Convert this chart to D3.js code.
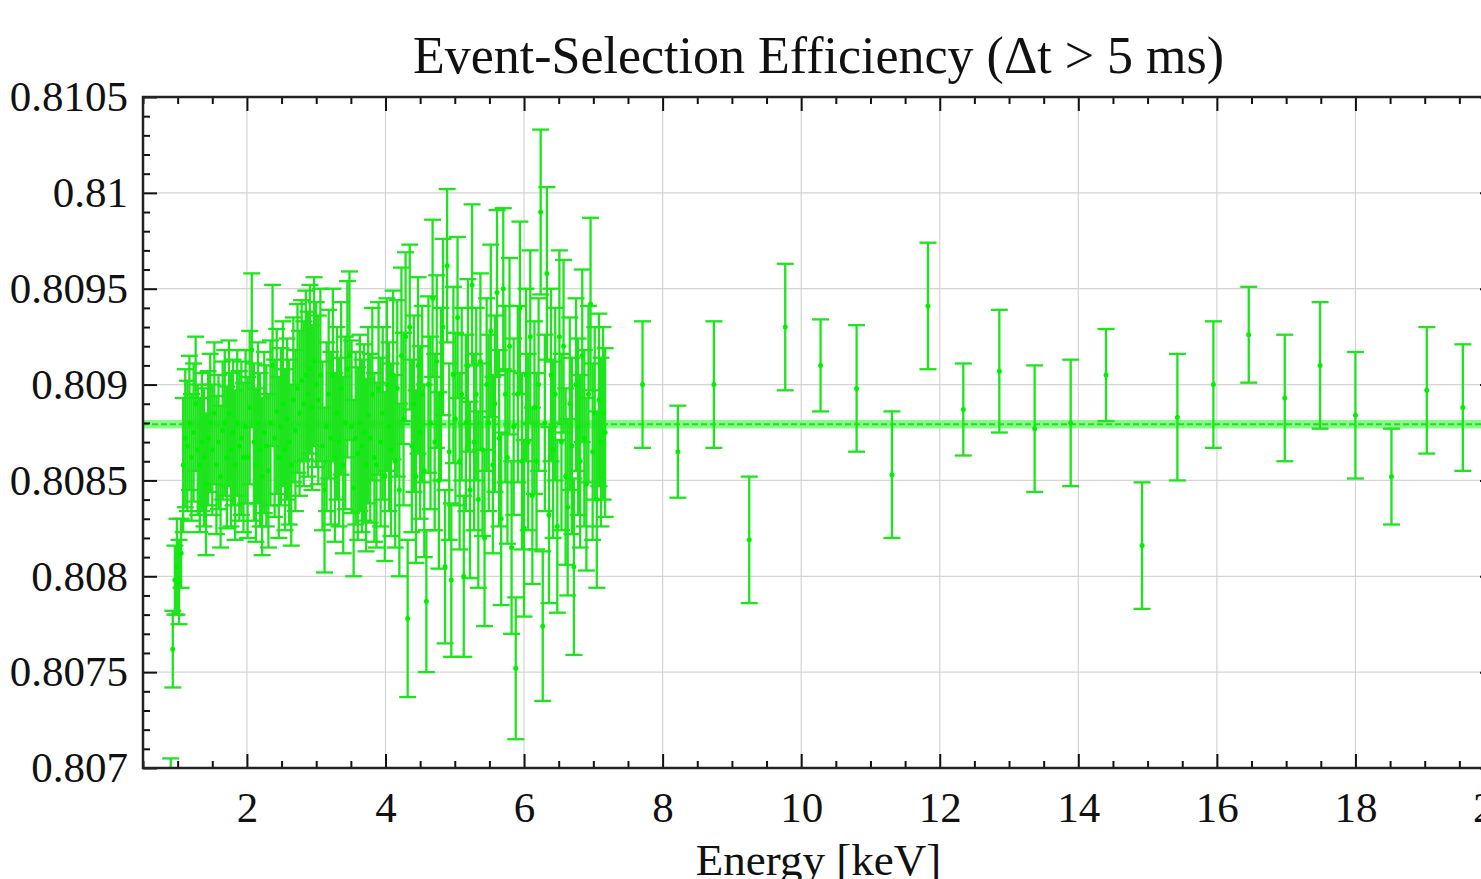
<!DOCTYPE html>
<html>
<head>
<meta charset="utf-8">
<script src="https://cdn.jsdelivr.net/npm/d3@7"></script>
<style>
  html, body { margin: 0; padding: 0; background: #ffffff; overflow: hidden; }
  svg { display: block; }
</style>
</head>
<body>
<svg id="chart" width="1481" height="879"></svg>
<script>
// ---- Data -----------------------------------------------------------------
// Fine-binned region: bins of 30 eV starting at 0.90 keV
const denseStart = 0.90;
const denseStep = 0.03;
const denseEff = [
  0.80680, 0.80762, 0.80798, 0.80805, 0.80797, 0.80812,
  0.80858, 0.80872, 0.80868, 0.80880, 0.80862, 0.80875, 0.80890, 0.80866, 0.80858, 0.80870,
  0.80862, 0.80848, 0.80872, 0.80880, 0.80866, 0.80885, 0.80858, 0.80870, 0.80852, 0.80876,
  0.80880, 0.80862, 0.80885, 0.80866, 0.80875, 0.80858, 0.80880, 0.80868, 0.80872, 0.80862,
  0.80878, 0.80862, 0.80888, 0.80918, 0.80870, 0.80858, 0.80880, 0.80866, 0.80852, 0.80875,
  0.80868, 0.80855, 0.80880, 0.80910, 0.80872, 0.80886, 0.80862, 0.80878, 0.80890, 0.80866,
  0.80882, 0.80870, 0.80858, 0.80892, 0.80876, 0.80898, 0.80885, 0.80902, 0.80890, 0.80905,
  0.80895, 0.80908, 0.80888, 0.80912, 0.80900, 0.80892, 0.80905, 0.80868, 0.80845, 0.80878,
  0.80895, 0.80872, 0.80905, 0.80862, 0.80885, 0.80870, 0.80898, 0.80858, 0.80880, 0.80908,
  0.80915, 0.80878, 0.80846, 0.80872, 0.80864, 0.80880, 0.80868, 0.80875, 0.80858, 0.80884,
  0.80872, 0.80895, 0.80862, 0.80858, 0.80898, 0.80870, 0.80885, 0.80852, 0.80900, 0.80878,
  0.80866, 0.80905, 0.80860, 0.80898, 0.80845, 0.80915, 0.80882, 0.80925, 0.80778, 0.80930,
  0.80868, 0.80890, 0.80852, 0.80910, 0.80875, 0.80895, 0.80855, 0.80787, 0.80900, 0.80880,
  0.80945, 0.80870, 0.80912, 0.80850, 0.80895, 0.80930, 0.80805, 0.80962, 0.80865, 0.80798,
  0.80905, 0.80882, 0.80935, 0.80860, 0.80895, 0.80800, 0.80880, 0.80910, 0.80845, 0.80952,
  0.80870, 0.80895, 0.80840, 0.80912, 0.80866, 0.80820, 0.80900, 0.80880, 0.80928, 0.80858,
  0.80890, 0.80948, 0.80872, 0.80830, 0.80950, 0.80895, 0.80862, 0.80920, 0.80815, 0.80878,
  0.80752, 0.80895, 0.80940, 0.80860, 0.80825, 0.80905, 0.80870, 0.80925, 0.80842, 0.80888,
  0.80860, 0.80900, 0.80990, 0.80774, 0.80880, 0.80958, 0.80832, 0.80905, 0.80866, 0.80895,
  0.80826, 0.80925, 0.80870, 0.80920, 0.80852, 0.80836, 0.80890, 0.80868, 0.80805, 0.80900,
  0.80878, 0.80860, 0.80915, 0.80872, 0.80848, 0.80895, 0.80942, 0.80865, 0.80885, 0.80840,
  0.80892, 0.80870, 0.80885, 0.80875
];
const denseErr = [
  0.00025, 0.00020, 0.00018, 0.00025, 0.00022, 0.00018,
  0.00035, 0.00036, 0.00034, 0.00035, 0.00033, 0.00036, 0.00035, 0.00034, 0.00035, 0.00036,
  0.00036, 0.00037, 0.00035, 0.00036, 0.00034, 0.00037, 0.00036, 0.00035, 0.00037, 0.00036,
  0.00038, 0.00037, 0.00038, 0.00040, 0.00038, 0.00039, 0.00038, 0.00039, 0.00040, 0.00039,
  0.00040, 0.00042, 0.00040, 0.00040, 0.00041, 0.00040, 0.00042, 0.00040, 0.00041, 0.00042,
  0.00042, 0.00040, 0.00043, 0.00042, 0.00041, 0.00043, 0.00042, 0.00041, 0.00043, 0.00042,
  0.00042, 0.00043, 0.00042, 0.00043, 0.00042, 0.00044, 0.00043, 0.00042, 0.00043, 0.00044,
  0.00043, 0.00044, 0.00043, 0.00044, 0.00043, 0.00044, 0.00045, 0.00044, 0.00043, 0.00044,
  0.00044, 0.00045, 0.00045, 0.00044, 0.00045, 0.00044, 0.00045, 0.00046, 0.00045, 0.00046,
  0.00044, 0.00045, 0.00046, 0.00045, 0.00045, 0.00046, 0.00045, 0.00046, 0.00045, 0.00046,
  0.00044, 0.00045, 0.00044, 0.00043, 0.00045, 0.00044, 0.00045, 0.00044, 0.00045, 0.00044,
  0.00045, 0.00044, 0.00045, 0.00046, 0.00045, 0.00046, 0.00045, 0.00044, 0.00041, 0.00043,
  0.00045, 0.00046, 0.00045, 0.00046, 0.00045, 0.00046, 0.00045, 0.00037, 0.00046, 0.00045,
  0.00041, 0.00046, 0.00045, 0.00046, 0.00045, 0.00046, 0.00040, 0.00040, 0.00046, 0.00040,
  0.00046, 0.00045, 0.00042, 0.00046, 0.00045, 0.00042, 0.00046, 0.00045, 0.00046, 0.00042,
  0.00046, 0.00045, 0.00046, 0.00046, 0.00045, 0.00046, 0.00045, 0.00046, 0.00045, 0.00046,
  0.00046, 0.00043, 0.00046, 0.00045, 0.00042, 0.00046, 0.00045, 0.00046, 0.00045, 0.00046,
  0.00037, 0.00046, 0.00045, 0.00046, 0.00046, 0.00045, 0.00046, 0.00045, 0.00046, 0.00045,
  0.00046, 0.00045, 0.00043, 0.00039, 0.00046, 0.00045, 0.00046, 0.00045, 0.00046, 0.00045,
  0.00045, 0.00045, 0.00046, 0.00045, 0.00046, 0.00046, 0.00045, 0.00046, 0.00046, 0.00045,
  0.00046, 0.00045, 0.00045, 0.00046, 0.00045, 0.00046, 0.00045, 0.00046, 0.00045, 0.00046,
  0.00045, 0.00044, 0.00045, 0.00044
];

// Coarse-binned region above 7.5 keV
const sparseEnergy = [7.71, 8.22, 8.74, 9.25, 9.77, 10.28, 10.80, 11.31, 11.83, 12.34, 12.86, 13.37,
                      13.89, 14.40, 14.92, 15.43, 15.95, 16.46, 16.98, 17.49, 18.00, 18.52, 19.03, 19.55];
const sparseEff = [0.80900, 0.80865, 0.80900, 0.80819, 0.80930, 0.80910, 0.80898, 0.80853, 0.80941, 0.80887, 0.80907, 0.80877,
                   0.80880, 0.80905, 0.80816, 0.80883, 0.80900, 0.80926, 0.80893, 0.80910, 0.80884, 0.80852, 0.80897, 0.80888];
const sparseErr = [0.00033, 0.00024, 0.00033, 0.00033, 0.00033, 0.00024, 0.00033, 0.00033, 0.00033, 0.00024, 0.00032, 0.00033,
                   0.00033, 0.00024, 0.00033, 0.00033, 0.00033, 0.00025, 0.00033, 0.00033, 0.00033, 0.00025, 0.00033, 0.00033];

// Constant fit and its uncertainty band
const fitValue = 0.808793;
const fitError = 0.000022;

// Axis ticks and labels
const xMajorTicks = [2, 4, 6, 8, 10, 12, 14, 16, 18, 20];
const yMajorTicks = [0.807, 0.8075, 0.808, 0.8085, 0.809, 0.8095, 0.81, 0.8105];
const yTickLabels = ["0.807", "0.8075", "0.808", "0.8085", "0.809", "0.8095", "0.81", "0.8105"];

const titleText = "Event-Selection Efficiency (\u0394t > 5 ms)";
const xAxisTitle = "Energy [keV]";

// ---- Layout ---------------------------------------------------------------
const frame = { left: 143, right: 1494, top: 97, bottom: 768 };
const fontFamily = "'Liberation Serif', 'Times New Roman', Times, serif";
const barColor = "#1ee41e";
const markerColor = "#00f000";

const x = d3.scaleLinear().domain([0.5, 20]).range([frame.left, frame.right]);
const y = d3.scaleLinear().domain([0.807, 0.8105]).range([frame.bottom, frame.top]);

const svg = d3.select("#chart");

svg.append("defs").append("clipPath").attr("id", "plot-clip")
  .append("rect")
  .attr("x", frame.left).attr("y", frame.top)
  .attr("width", frame.right - frame.left).attr("height", frame.bottom - frame.top);

// Grid
const grid = svg.append("g").attr("class", "grid");
grid.selectAll("line.gx").data(xMajorTicks.filter(t => t < 20)).join("line")
  .attr("x1", d => x(d)).attr("x2", d => x(d))
  .attr("y1", frame.top).attr("y2", frame.bottom)
  .attr("stroke", "#d4d4d4").attr("stroke-width", 1.2);
grid.selectAll("line.gy").data(yMajorTicks.filter(t => t > 0.807 && t < 0.8105)).join("line")
  .attr("x1", frame.left).attr("x2", frame.right)
  .attr("y1", d => y(d)).attr("y2", d => y(d))
  .attr("stroke", "#d4d4d4").attr("stroke-width", 1.2);

// Points
const points = [];
denseEff.forEach((v, i) => points.push({ e: +(denseStart + i * denseStep).toFixed(3), v, err: denseErr[i] }));
sparseEnergy.forEach((e, i) => points.push({ e, v: sparseEff[i], err: sparseErr[i] }));

const plot = svg.append("g").attr("clip-path", "url(#plot-clip)");

// Fit band
plot.append("rect")
  .attr("x", x(0.5)).attr("width", x(20) - x(0.5))
  .attr("y", y(fitValue + fitError)).attr("height", y(fitValue - fitError) - y(fitValue + fitError))
  .attr("fill", "#6dff6d").attr("opacity", 0.85);
plot.append("line")
  .attr("x1", x(0.5)).attr("x2", x(20))
  .attr("y1", y(fitValue)).attr("y2", y(fitValue))
  .attr("stroke", "#35d035").attr("stroke-width", 2)
  .attr("stroke-dasharray", "6,3");

const capHalf = 8.5;
const bars = plot.append("g").attr("stroke", barColor).attr("stroke-width", 2.3).attr("fill", "none");
bars.selectAll("line.err").data(points).join("line")
  .attr("x1", d => x(d.e)).attr("x2", d => x(d.e))
  .attr("y1", d => y(d.v - d.err)).attr("y2", d => y(d.v + d.err));
bars.selectAll("line.capTop").data(points).join("line")
  .attr("x1", d => x(d.e) - capHalf).attr("x2", d => x(d.e) + capHalf)
  .attr("y1", d => y(d.v + d.err)).attr("y2", d => y(d.v + d.err));
bars.selectAll("line.capBot").data(points).join("line")
  .attr("x1", d => x(d.e) - capHalf).attr("x2", d => x(d.e) + capHalf)
  .attr("y1", d => y(d.v - d.err)).attr("y2", d => y(d.v - d.err));

plot.append("g").selectAll("circle").data(points).join("circle")
  .attr("cx", d => x(d.e)).attr("cy", d => y(d.v)).attr("r", 2.5)
  .attr("fill", markerColor);

// Axes with inward ticks on all four sides
const xMinor = d3.range(0.5, 20.001, 0.5).filter(t => Math.abs(t / 2 - Math.round(t / 2)) > 1e-6);
const yMinor = d3.range(0, 36).map(k => 0.807 + k * 0.0001).filter(t => !yMajorTicks.some(m => Math.abs(m - t) < 1e-9));

function styleAxis(g) {
  g.select(".domain").remove();
  g.selectAll(".tick line").attr("stroke", "#111").attr("stroke-width", 2);
  g.selectAll(".tick text").attr("fill", "#111").style("font-family", fontFamily);
}

const bottomAxis = svg.append("g").attr("transform", `translate(0,${frame.bottom})`)
  .call(d3.axisBottom(x).tickValues(xMajorTicks).tickSize(-14).tickPadding(23).tickFormat(d3.format("d")));
styleAxis(bottomAxis);
bottomAxis.selectAll(".tick text").style("font-size", "43px");
svg.append("g").attr("transform", `translate(0,${frame.bottom})`)
  .call(d3.axisBottom(x).tickValues(xMinor).tickSize(-7).tickFormat(""))
  .call(styleAxis);

const topAxis = svg.append("g").attr("transform", `translate(0,${frame.top})`)
  .call(d3.axisTop(x).tickValues(xMajorTicks).tickSize(-14).tickFormat(""));
styleAxis(topAxis);
svg.append("g").attr("transform", `translate(0,${frame.top})`)
  .call(d3.axisTop(x).tickValues(xMinor).tickSize(-7).tickFormat(""))
  .call(styleAxis);

const leftAxis = svg.append("g").attr("transform", `translate(${frame.left},0)`)
  .call(d3.axisLeft(y).tickValues(yMajorTicks).tickSize(-14).tickPadding(15)
    .tickFormat((d, i) => yTickLabels[i]));
styleAxis(leftAxis);
leftAxis.selectAll(".tick text").style("font-size", "43px");
svg.append("g").attr("transform", `translate(${frame.left},0)`)
  .call(d3.axisLeft(y).tickValues(yMinor).tickSize(-7).tickFormat(""))
  .call(styleAxis);

svg.append("g").attr("transform", `translate(${frame.right},0)`)
  .call(d3.axisRight(y).tickValues(yMajorTicks).tickSize(-14).tickFormat(""))
  .call(styleAxis);
svg.append("g").attr("transform", `translate(${frame.right},0)`)
  .call(d3.axisRight(y).tickValues(yMinor).tickSize(-7).tickFormat(""))
  .call(styleAxis);

// Frame
svg.append("rect")
  .attr("x", frame.left).attr("y", frame.top)
  .attr("width", frame.right - frame.left).attr("height", frame.bottom - frame.top)
  .attr("fill", "none").attr("stroke", "#222").attr("stroke-width", 2.5);

// Titles
svg.append("text")
  .attr("x", (frame.left + frame.right) / 2).attr("y", 73)
  .attr("text-anchor", "middle")
  .style("font-family", fontFamily).style("font-size", "52px").attr("fill", "#111")
  .text(titleText);

svg.append("text")
  .attr("x", (frame.left + frame.right) / 2).attr("y", 875)
  .attr("text-anchor", "middle")
  .style("font-family", fontFamily).style("font-size", "45px").attr("fill", "#111")
  .text(xAxisTitle);
</script>
</body>
</html>
